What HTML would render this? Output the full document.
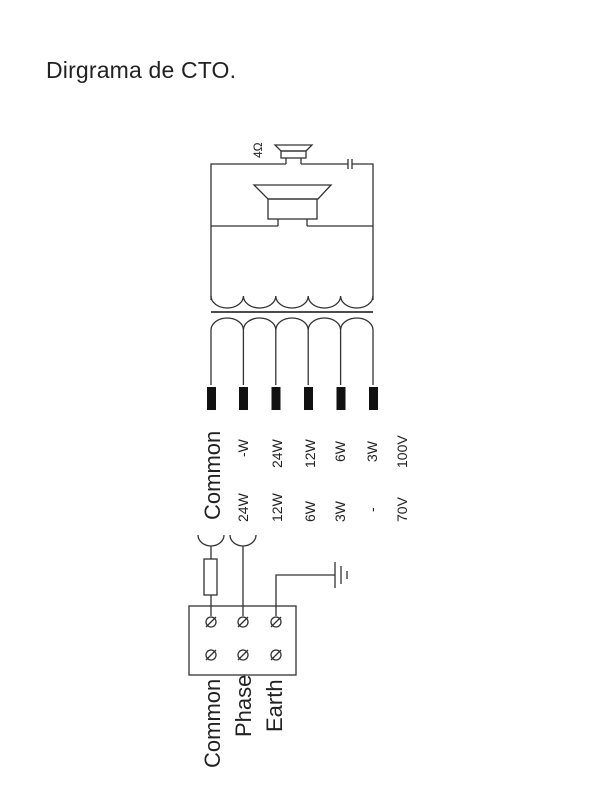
<!DOCTYPE html>
<html><head><style>
html,body{margin:0;padding:0;background:#fff;width:600px;height:800px;overflow:hidden}
svg{display:block}
text{font-family:"Liberation Sans",sans-serif;fill:#222}
</style></head><body>
<svg width="600" height="800" viewBox="0 0 600 800" xmlns="http://www.w3.org/2000/svg">
<text x="46" y="78" font-size="23" style="font-family:'Liberation Sans',sans-serif" fill="#000" textLength="190">Dirgrama de CTO.</text>
<g fill="none" stroke="#333" stroke-width="1.3">
<path d="M275 145 H312 L306 151 H281 Z"/>
<rect x="281" y="151" width="25" height="7"/>
<path d="M286 158 V164 M301 158 V164"/>
<path d="M211 300 V164 H286 M301 164 H348 M352 164 H373 V300"/>
<path d="M348 159 V169 M352 159 V169"/>
<path d="M254 185 H331 L318 199 H268 Z"/>
<rect x="268" y="199" width="49" height="20"/>
<path d="M278 219 V226 M307 219 V226"/>
<path d="M211 226 H278 M307 226 H373"/>
<path d="M211 296 A16.2 12 0 0 0 243.4 296 A16.2 12 0 0 0 275.8 296 A16.2 12 0 0 0 308.2 296 A16.2 12 0 0 0 340.6 296 A16.2 12 0 0 0 373 296"/>
<path d="M211 312 H373" stroke-width="1.8"/>
<path d="M211 385 V330 A16.2 12 0 0 1 243.4 330 A16.2 12 0 0 1 275.8 330 A16.2 12 0 0 1 308.2 330 A16.2 12 0 0 1 340.6 330 A16.2 12 0 0 1 373 330 V385"/>
<path d="M243.4 330 V385 M275.8 330 V385 M308.2 330 V385 M340.6 330 V385"/>
<rect x="189" y="606" width="107" height="69"/>
<path d="M198 535 A13 11 0 0 0 224 535"/>
<path d="M230 535 A13 11 0 0 0 256 535"/>
<rect x="204" y="559" width="13" height="36"/>
<path d="M211 546 V559 M211 595 V616 M243 546 V616"/>
<path d="M276 616 V575 H335"/>
<path d="M335 562 V588 M341 566 V584 M347 571 V579"/>
</g>
<g fill="#111">
<rect x="207" y="387" width="9" height="23"/>
<rect x="239" y="387" width="9" height="23"/>
<rect x="271.5" y="387" width="9" height="23"/>
<rect x="304" y="387" width="9" height="23"/>
<rect x="336.5" y="387" width="9" height="23"/>
<rect x="369" y="387" width="9" height="23"/>
</g>
<g fill="none" stroke="#333" stroke-width="1.3">
<circle cx="211" cy="622" r="5"/><circle cx="243" cy="622" r="5"/><circle cx="276" cy="622" r="5"/>
<circle cx="211" cy="655" r="5"/><circle cx="243" cy="655" r="5"/><circle cx="276" cy="655" r="5"/>
<path d="M206 627 L216 617 M238 627 L248 617 M271 627 L281 617 M206 660 L216 650 M238 660 L248 650 M271 660 L281 650"/>
</g>
<g font-size="14">
<text transform="translate(262,158) rotate(-90)" font-size="12">4Ω</text>
<text transform="translate(220,520) rotate(-90)" font-size="22">Common</text>
<text transform="translate(248,457) rotate(-90)">-W</text>
<text transform="translate(248,522) rotate(-90)">24W</text>
<text transform="translate(282,468) rotate(-90)">24W</text>
<text transform="translate(282,522) rotate(-90)">12W</text>
<text transform="translate(315,468) rotate(-90)">12W</text>
<text transform="translate(315,522) rotate(-90)">6W</text>
<text transform="translate(345,462) rotate(-90)">6W</text>
<text transform="translate(345,522) rotate(-90)">3W</text>
<text transform="translate(377,462) rotate(-90)">3W</text>
<text transform="translate(377,512) rotate(-90)">-</text>
<text transform="translate(407,468) rotate(-90)">100V</text>
<text transform="translate(407,522) rotate(-90)">70V</text>
<text transform="translate(220,768) rotate(-90)" font-size="22">Common</text>
<text transform="translate(251,737) rotate(-90)" font-size="22">Phase</text>
<text transform="translate(282,732) rotate(-90)" font-size="22">Earth</text>
</g>
</svg>
</body></html>
